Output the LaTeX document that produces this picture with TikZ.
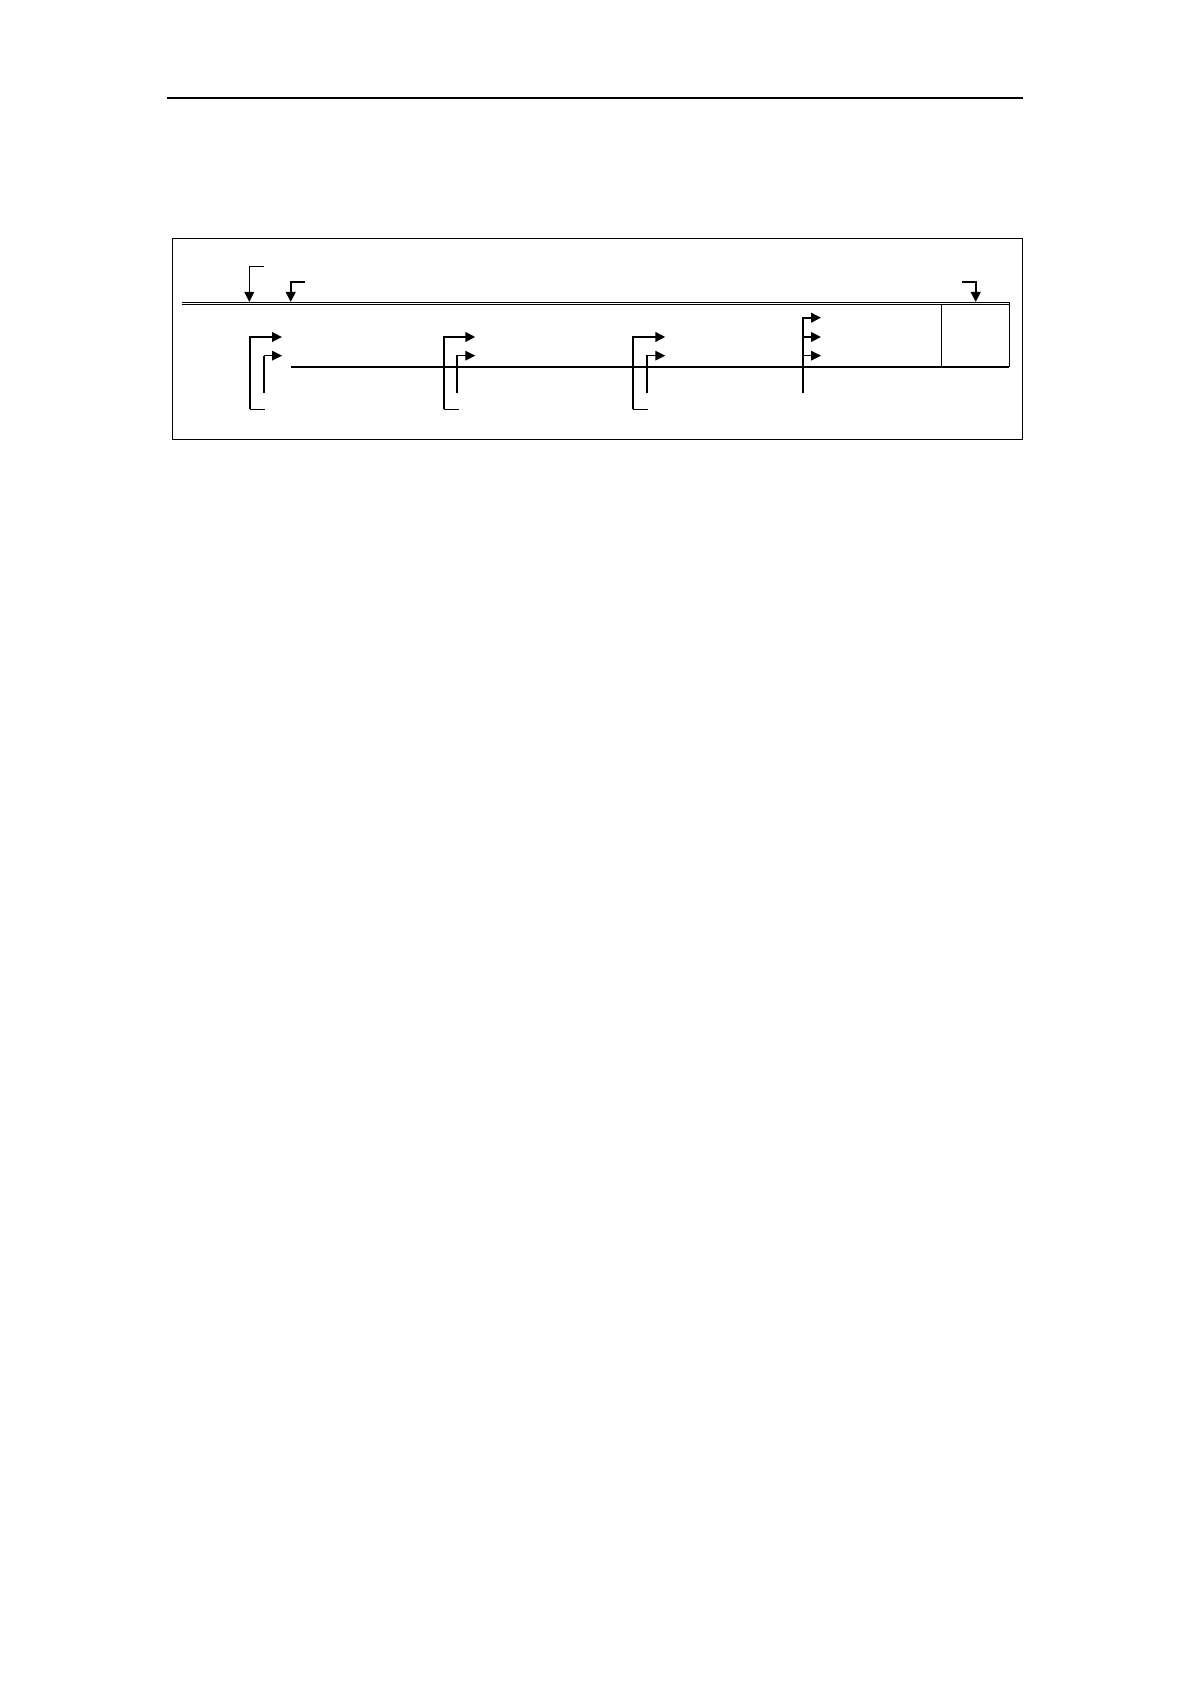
\documentclass[tikz,border=0pt]{standalone}
\usetikzlibrary{arrows.meta}
\begin{document}
\begin{tikzpicture}[x=0.5pt, y=-0.5pt,
    tip/.style={-{Triangle[length=5pt, width=4.8pt]}},
    heavy/.style={line width=1.1pt},
    light/.style={line width=0.65pt}]
    \useasboundingbox (0,0) rectangle (1190,1684);

    % Header rule
    \draw[line width=1.1pt] (167,98) -- (1023,98);

    % Outer frame
    \draw[light] (172.3,238.3) rectangle (1022.5,439.3);

    % Double line and the box at its right end
    \draw[line width=0.55pt] (182,302.3) -- (1009.3,302.3);
    \draw[line width=0.55pt] (182,304.6) -- (1009.3,304.6);
    \draw[light] (941.7,304.6) -- (941.7,367);
    \draw[light] (1009.3,302.3) -- (1009.3,367);
    \draw[light] (291,367) -- (1009.3,367);

    % Arrows down onto the double line
    \draw[light, tip] (263.7,266.7) -- (249.3,266.7) -- (249.3,302);
    \draw[heavy, tip] (304.7,282.3) -- (290.7,282.3) -- (290.7,302);
    \draw[heavy, tip] (962,282.3) -- (975.7,282.3) -- (975.7,302);

    % Bracket groups
    \foreach \xo/\xi/\xt in {250.3/264/282, 444.3/456.7/475.3, 632.7/646.7/665.3} {
        \draw[heavy, tip] (\xo,409.3) -- (\xo,337) -- (\xt,337);
        \draw[light] (\xo,409.3) -- (\xo+15,409.3);
        \draw[heavy] (\xi,393.3) -- (\xi,355.7);
        \draw[light, tip] (\xi-0.5,355.7) -- (\xt,355.7);
    }

    % Group with three arrows
    \draw[heavy, tip] (802.7,393.3) -- (802.7,317.7) -- (821,317.7);
    \draw[heavy, tip] (802.7,337) -- (821,337);
    \draw[light, tip] (802.7,355.7) -- (821,355.7);
\end{tikzpicture}
\end{document}
